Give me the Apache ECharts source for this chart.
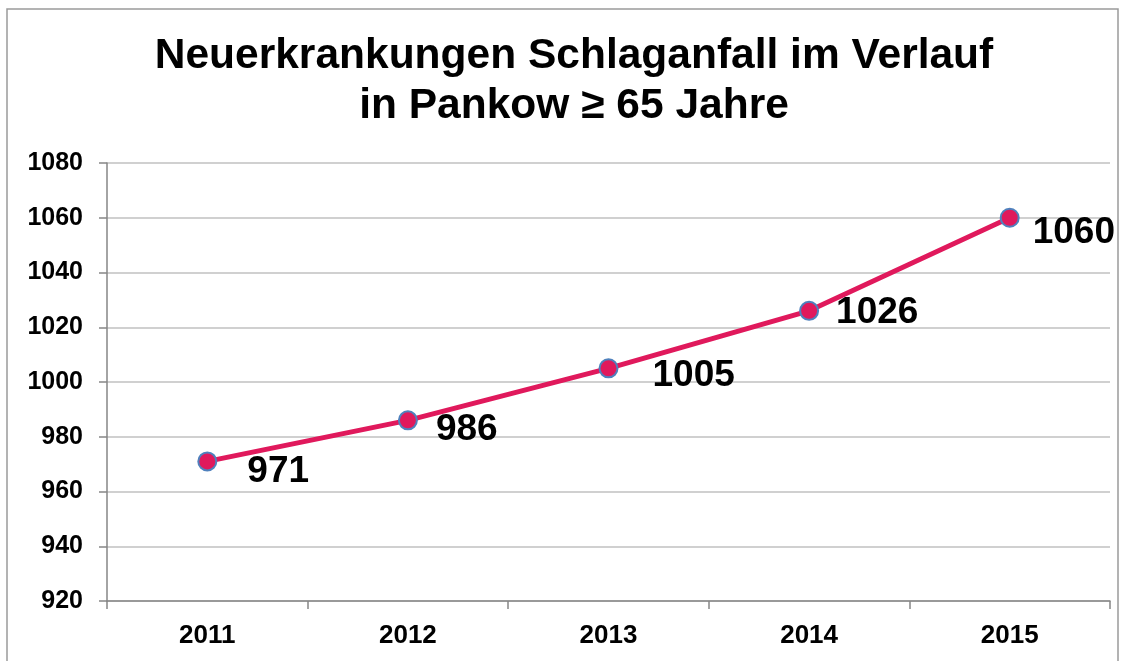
<!DOCTYPE html>
<html>
<head>
<meta charset="utf-8">
<script src="https://cdn.jsdelivr.net/npm/echarts@6/dist/echarts.min.js"></script>
<style>
html,body{margin:0;padding:0;background:#fff;}
#app_chart{width:1125px;height:661px;}
</style>
</head>
<body>
<div id="app_chart"></div>
<script>
// Daten
var years = ['2011', '2012', '2013', '2014', '2015'];
var cases = [971, 986, 1005, 1026, 1060];
var yTicks = [920, 940, 960, 980, 1000, 1020, 1040, 1060, 1080];

(function(){
	// label placement next to each point (x, y offset in px)
	var labelShift = [[25, 10], [13, 9], [29, 7], [12, 2], [8, 15]];
	var points = [];
	for (var i = 0; i < cases.length; i++) {
		points.push({
			value: cases[i],
			label: {offset: labelShift[i]}
		});
	}

	var option = {
		animation: false,
		textStyle: {fontFamily: 'Liberation Sans, Arial, sans-serif'},
		title: {
			text: 'Neuerkrankungen Schlaganfall im Verlauf\nin Pankow \u2265 65 Jahre',
			left: 569,
			textAlign: 'center',
			top: 26,
			textStyle: {
				fontFamily: 'Liberation Sans, Arial, sans-serif',
				fontSize: 42.5,
				fontWeight: 'bold',
				lineHeight: 50,
				color: '#000'
			}
		},
		graphic: [{
			type: 'rect',
			shape: {x: 7, y: 9, width: 1111, height: 700},
			style: {fill: 'none', stroke: '#9a9a9a', lineWidth: 1.5},
			silent: true
		}],
		grid: {left: 107, right: 15, top: 163, bottom: 60},
		xAxis: {
			type: 'category',
			data: years,
			boundaryGap: true,
			axisLine: {lineStyle: {color: '#868686', width: 1.5}},
			axisTick: {show: true, length: 8, lineStyle: {color: '#868686', width: 1.5}},
			axisLabel: {
				margin: 22,
				fontSize: 26,
				fontWeight: 'bold',
				color: '#000'
			}
		},
		yAxis: {
			type: 'value',
			min: yTicks[0],
			max: yTicks[yTicks.length - 1],
			interval: yTicks[1] - yTicks[0],
			axisLine: {show: true, lineStyle: {color: '#868686', width: 1.5}},
			axisTick: {show: true, length: 8, lineStyle: {color: '#868686', width: 1.5}},
			splitLine: {lineStyle: {color: '#c0c0c0', width: 1.5}},
			axisLabel: {
				margin: 24,
				fontSize: 25,
				fontWeight: 'bold',
				color: '#000',
				formatter: function(v){ return String(v); }
			}
		},
		series: [{
			type: 'line',
			data: points,
			symbol: 'circle',
			symbolSize: 18,
			lineStyle: {color: '#e0195c', width: 5},
			itemStyle: {color: '#e0195c', borderColor: '#4f81bd', borderWidth: 2},
			label: {
				show: true,
				position: 'right',
				distance: 5,
				fontSize: 37,
				fontWeight: 'bold',
				color: '#000'
			}
		}]
	};

	var chart = echarts.init(document.getElementById('app_chart'));
	chart.setOption(option);
})();
</script>
</body>
</html>
